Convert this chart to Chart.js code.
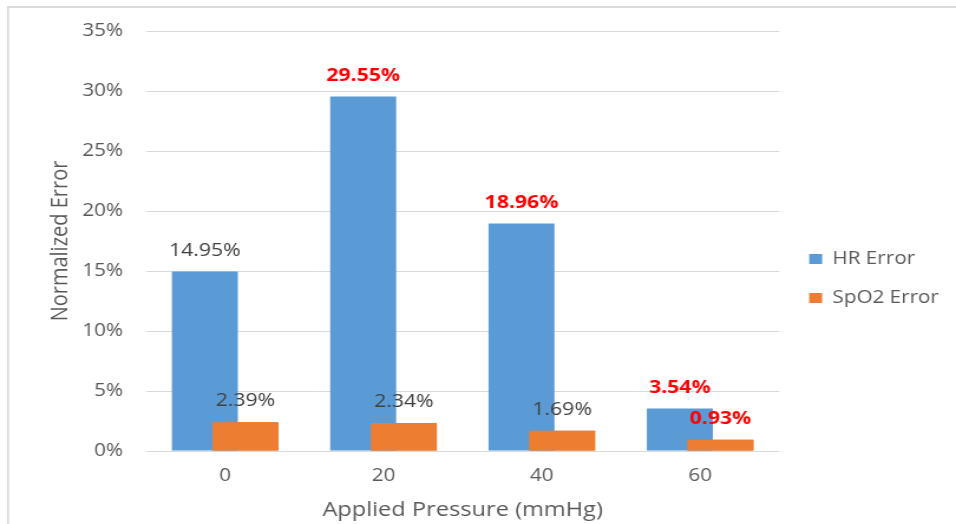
<!DOCTYPE html>
<html lang="en">
<head>
    <meta charset="UTF-8">
    <title>Normalized Error vs Applied Pressure</title>
    <script src="https://cdn.jsdelivr.net/npm/chart.js"></script>
    <style>
        body { margin: 0; background: #fff; }
    </style>
</head>
<body>
    <!-- drawn narrower and stretched sideways, like the original screenshot -->
    <canvas id="errorChart" width="810" height="524" style="width:956px;height:524px;display:block"></canvas>
    <script>
        // data
        const pressures = ['0', '20', '40', '60'];
        const hrError = [14.95, 29.55, 18.96, 3.54];
        const spo2Error = [2.39, 2.34, 1.69, 0.93];
        // which value labels are shown in red bold
        const hrHighlight = [false, true, true, true];
        const spo2Highlight = [false, false, false, true];
        const yTicks = { min: 0, max: 35, step: 5 };

        const FONT = '"Open Sans", "DejaVu Sans", sans-serif';
        const LEGEND_X = 685.6;   // left of first legend box (canvas units)
        const LEGEND_Y = 250.3;   // top of first legend row

        // light frame on left and top, as in the screenshot
        const frame = {
            id: 'frame',
            beforeDraw(chart) {
                const ctx = chart.ctx;
                ctx.save();
                ctx.fillStyle = '#d9d9d9';
                ctx.fillRect(5.9, 6, 1.7, chart.height);
                ctx.fillRect(5.9, 6, chart.width, 2);
                ctx.restore();
            }
        };

        const moveLegend = {
            id: 'moveLegend',
            afterLayout(chart) {
                const lg = chart.legend;
                const pad = lg.options.labels.padding;
                const w = lg.width, h = lg.height;
                lg.left = LEGEND_X - pad;
                lg.right = lg.left + w;
                lg.top = LEGEND_Y - pad;
                lg.bottom = lg.top + h;
            }
        };

        // chart.js paints dataset 0 last; the SpO2 bars must sit on top of the HR bars
        const spo2OnTop = {
            id: 'spo2OnTop',
            afterDatasetsDraw(chart) {
                chart.getDatasetMeta(1).controller.draw();
            }
        };

        const valueLabels = {
            id: 'valueLabels',
            afterDatasetsDraw(chart) {
                const ctx = chart.ctx;
                const flags = [hrHighlight, spo2Highlight];
                chart.data.datasets.forEach((ds, i) => {
                    chart.getDatasetMeta(i).data.forEach((bar, j) => {
                        const hot = flags[i][j];
                        ctx.save();
                        ctx.font = (hot ? 'bold ' : '') + '18px ' + FONT;
                        ctx.fillStyle = hot ? '#FF0000' : '#404040';
                        ctx.textAlign = 'center';
                        ctx.textBaseline = 'middle';
                        ctx.fillText(ds.data[j].toFixed(2) + '%', bar.x, bar.y - 21);
                        ctx.restore();
                    });
                });
            }
        };

        new Chart(document.getElementById('errorChart'), {
            type: 'bar',
            data: {
                labels: pressures,
                datasets: [
                    { label: 'HR Error', data: hrError, backgroundColor: '#5B9BD5' },
                    { label: 'SpO2 Error', data: spo2Error, backgroundColor: '#ED7D31' }
                ]
            },
            options: {
                responsive: false,
                devicePixelRatio: 1,
                animation: false,
                categoryPercentage: 0.513,
                barPercentage: 1.625,
                layout: { padding: { left: 0, top: 31, right: 8.3, bottom: 0 } },
                plugins: {
                    tooltip: { enabled: false },
                    legend: {
                        position: 'right',
                        align: 'start',
                        maxWidth: 150,
                        labels: {
                            boxWidth: 11,
                            boxHeight: 10,
                            padding: 21.5,
                            color: '#595959',
                            font: { family: FONT, size: 17.5 }
                        }
                    }
                },
                scales: {
                    x: {
                        grid: { display: false, drawTicks: false },
                        border: { display: false },
                        ticks: { color: '#595959', padding: 15, font: { family: FONT, size: 17.5 } },
                        title: {
                            display: true,
                            text: 'Applied Pressure (mmHg)',
                            color: '#595959',
                            font: { family: FONT, size: 20 },
                            padding: { top: 0, bottom: 2 }
                        },
                        afterFit: s => { s.height = 73; }
                    },
                    y: {
                        min: yTicks.min,
                        max: yTicks.max,
                        grid: { color: '#d9d9d9', drawTicks: false },
                        border: { display: false },
                        ticks: {
                            stepSize: yTicks.step,
                            padding: 19.5,
                            color: '#595959',
                            font: { family: FONT, size: 17.5 },
                            callback: v => v + '%'
                        },
                        title: {
                            display: true,
                            text: 'Normalized Error',
                            color: '#595959',
                            font: { family: FONT, size: 20 },
                            padding: { top: 38.8, bottom: 0 }
                        },
                        afterFit: s => { s.width = 123.7; }
                    }
                }
            },
            plugins: [frame, moveLegend, spo2OnTop, valueLabels]
        });
    </script>
</body>
</html>
